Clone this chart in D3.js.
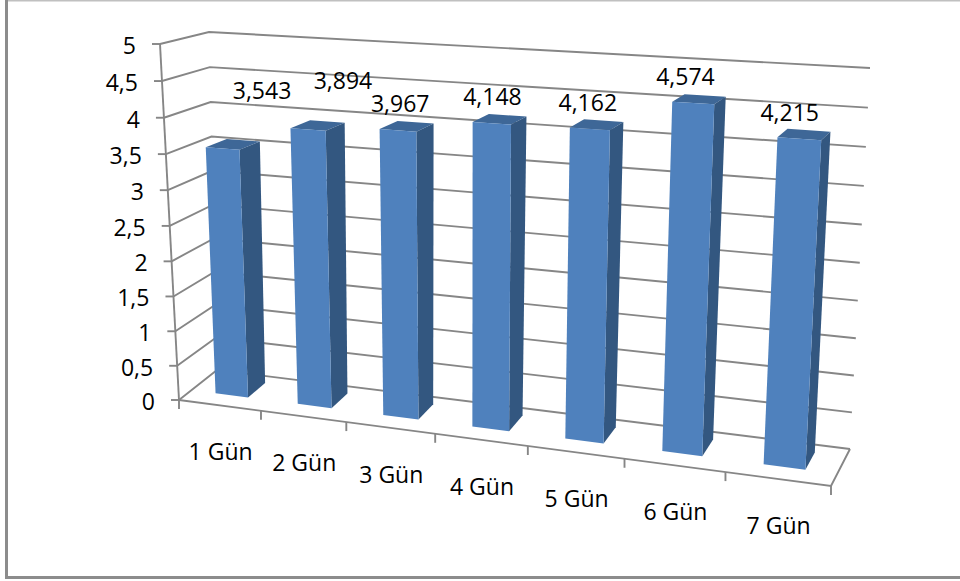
<!DOCTYPE html>
<html>
<head>
<meta charset="utf-8">
<script src="https://cdn.jsdelivr.net/npm/d3@7"></script>
<style>
html,body{margin:0;padding:0;background:#fff}
svg{display:block}
text{font-family:"Open Sans",sans-serif;font-size:23px;fill:#000}
</style>
</head>
<body>
<svg id="chart" width="960" height="581"></svg>
<script>
const categories = ["1 Gün","2 Gün","3 Gün","4 Gün","5 Gün","6 Gün","7 Gün"];
const values = [3.543,3.894,3.967,4.148,4.162,4.574,4.215];
const valueLabels = ["3,543","3,894","3,967","4,148","4,162","4,574","4,215"];
const yTicks = [0,0.5,1,1.5,2,2.5,3,3.5,4,4.5,5];
const yTickLabels = ["0","0,5","1","1,5","2","2,5","3","3,5","4","4,5","5"];

// Corners of the 3D plot box on screen: [x, y] for front/back, left/right, floor/ceiling.
const box = {
  fl0:[179,400], fl1:[160,44],
  fr0:[831,486], fr1:[852,83],
  bl0:[217,370], bl1:[209,32],
  br0:[850,449], br1:[870,68]
};
// Hand-placed data labels that sit clear of their column.
const labelNudge = [[38,-30],[34,-22],[2,1],[1,1],[-1,1],[-6,1],[-7,1]];

const lerp = (a,b,t)=>a+(b-a)*t;
// Perspective foreshortening along one box edge.
const foreshorten = b => t => (1+b)*t/(1+b*t);
const warpU = foreshorten(-0.137), warpV = foreshorten(-0.043);

const band = d3.scaleBand().domain(categories).range([0,1]).paddingInner(0.6).paddingOuter(0.3);
const step = d3.scaleBand().domain(categories).range([0,1]);
const yScale = d3.scaleLinear().domain([0,5]).range([0,1]);

function project(u,w,val){
  const U=warpU(u), V=warpV(yScale(val));
  const pick=(k,i)=>box[k][i];
  return [0,1].map(i=>{
    const f0=lerp(pick("fl0",i),pick("fr0",i),U), f1=lerp(pick("fl1",i),pick("fr1",i),U);
    const b0=lerp(pick("bl0",i),pick("br0",i),U), b1=lerp(pick("bl1",i),pick("br1",i),U);
    return lerp(lerp(f0,b0,w),lerp(f1,b1,w),V);
  });
}

const svg = d3.select("#chart");
const GRID="#868686";
const line = d3.line();

// Outer frame of the chart area: the top edge is a paler hairline
svg.append("path").attr("d",line([[6,0.5],[960,0.5]])).attr("stroke","#c0c0c0").attr("stroke-width",2).attr("fill","none");
svg.append("path").attr("d",line([[6.5,0],[6.5,577.5],[960,577.5]]))
  .attr("fill","none").attr("stroke","#8c8c8c").attr("stroke-width",3);

const grid = svg.append("g").attr("fill","none").attr("stroke",GRID).attr("stroke-width",1.9);

// Wall gridlines with tick marks, back-right to front-left
yTicks.forEach(v=>{
  grid.append("path").attr("d",line([project(1,1,v),project(0,1,v),project(0,0,v)]));
  const p=project(0,0,v);
  grid.append("path").attr("d",line([p,[p[0]-8,p[1]]]));
});
// Vertical axis, floor outline and category ticks
grid.append("path").attr("d",line([project(0,0,0),project(0,0,5)]));
grid.append("path").attr("d",line([project(0,0,0),project(1,0,0),project(1,1,0)]));
d3.range(categories.length+1).forEach(i=>{
  const p=project(i/categories.length,0,0);
  grid.append("path").attr("d",line([p,[p[0],p[1]+9]]));
});

// Columns
const W0=0.33, W1=0.8;
const bars = svg.append("g").selectAll("g").data(categories).join("g");
const face=(sel,fill,pts)=>sel.append("path").attr("fill",fill).attr("d",(d,i)=>line(pts(band(d),band(d)+band.bandwidth(),values[i]))+"Z");
face(bars,"#3E6797",(a,b,v)=>[project(a,W0,v),project(b,W0,v),project(b,W1,v),project(a,W1,v)]);
face(bars,"#335780",(a,b,v)=>[project(b,W0,0),project(b,W1,0),project(b,W1,v),project(b,W0,v)]);
face(bars,"#4F81BD",(a,b,v)=>[project(a,W0,0),project(b,W0,0),project(b,W0,v),project(a,W0,v)]);

// Value axis labels
svg.append("g").selectAll("text").data(yTicks).join("text")
  .attr("text-anchor","end")
  .attr("x",v=>project(0,0,v)[0]-24)
  .attr("y",v=>project(0,0,v)[1]+10)
  .text((v,i)=>yTickLabels[i]);

// Category labels
svg.append("g").selectAll("text").data(categories).join("text")
  .attr("text-anchor","middle")
  .attr("x",d=>project(step(d)+step.bandwidth()/2,0,0)[0]+1)
  .attr("y",d=>project(step(d)+step.bandwidth()/2,0,0)[1]+55)
  .text(d=>d);

// Data labels above each column
svg.append("g").selectAll("text").data(categories).join("text")
  .attr("text-anchor","middle")
  .attr("x",(d,i)=>project(band(d)+band.bandwidth()/2,0.5,values[i])[0]-6+labelNudge[i][0])
  .attr("y",(d,i)=>project(band(d)+band.bandwidth()/2,0.5,values[i])[1]-16+labelNudge[i][1])
  .text((d,i)=>valueLabels[i]);
</script>
</body>
</html>
